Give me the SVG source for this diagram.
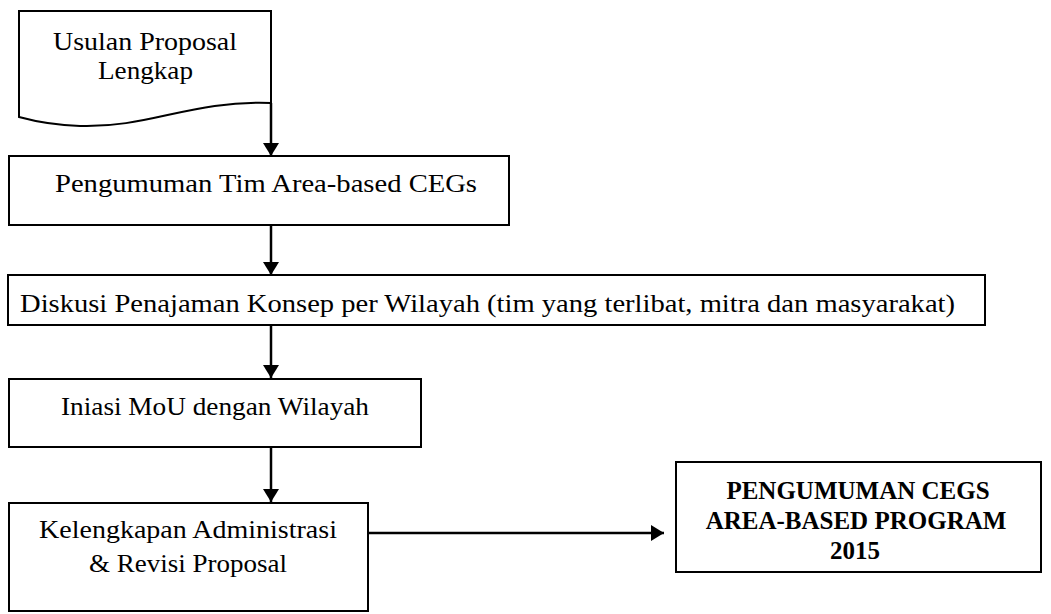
<svg xmlns="http://www.w3.org/2000/svg" width="1051" height="614" viewBox="0 0 1051 614">
<style>
.box{fill:#fff;stroke:#000;stroke-width:2}
.t{font-family:"Liberation Serif",serif;font-size:26px;fill:#000}
.b{font-family:"Liberation Serif",serif;font-size:25px;font-weight:bold;fill:#000;text-anchor:middle}
.c{stroke:#000;stroke-width:2.5;fill:none;marker-end:url(#ah)}
</style>
<defs>
<marker id="ah" markerUnits="userSpaceOnUse" markerWidth="16" markerHeight="16" refX="13" refY="8" orient="auto">
<path d="M0,0 L13,8 L0,16 Z" fill="#000"/>
</marker>
</defs>
<rect width="1051" height="614" fill="#fff"/>
<g id="n1">
<path class="box" d="M19,11 H271 V103 C190,100 150,128 80,126 C50,125 30,120 19,117 Z"/>
<text class="t" x="53" y="49.5" textLength="184" lengthAdjust="spacingAndGlyphs">Usulan Proposal</text>
<text class="t" x="98" y="79" textLength="95" lengthAdjust="spacingAndGlyphs">Lengkap</text>
</g>
<g id="n2">
<rect class="box" x="9" y="156" width="500" height="69"/>
<text class="t" x="55" y="192" textLength="422" lengthAdjust="spacingAndGlyphs">Pengumuman Tim Area-based CEGs</text>
</g>
<g id="n3">
<rect class="box" x="8" y="275" width="977" height="50"/>
<text class="t" x="20" y="312" textLength="935" lengthAdjust="spacingAndGlyphs">Diskusi Penajaman Konsep per Wilayah (tim yang terlibat, mitra dan masyarakat)</text>
</g>
<g id="n4">
<rect class="box" x="9" y="379" width="412" height="68"/>
<text class="t" x="61" y="415" textLength="308" lengthAdjust="spacingAndGlyphs">Iniasi MoU dengan Wilayah</text>
</g>
<g id="n5">
<rect class="box" x="9" y="503" width="359" height="108"/>
<text class="t" x="39" y="538" textLength="298" lengthAdjust="spacingAndGlyphs">Kelengkapan Administrasi</text>
<text class="t" x="89" y="572" textLength="198" lengthAdjust="spacingAndGlyphs">&amp; Revisi Proposal</text>
</g>
<g id="n6">
<rect class="box" x="676" y="462" width="365" height="110"/>
<text class="b" x="858" y="499">PENGUMUMAN CEGS</text>
<text class="b" x="856" y="529">AREA-BASED PROGRAM</text>
<text class="b" x="855" y="559">2015</text>
</g>
<g id="connectors">
<line class="c" x1="271" y1="103" x2="271" y2="156"/>
<line class="c" x1="271" y1="225" x2="271" y2="275"/>
<line class="c" x1="271" y1="326" x2="271" y2="378"/>
<line class="c" x1="271" y1="447" x2="271" y2="502"/>
<line class="c" x1="368" y1="533" x2="664" y2="533"/>
</g>
</svg>
